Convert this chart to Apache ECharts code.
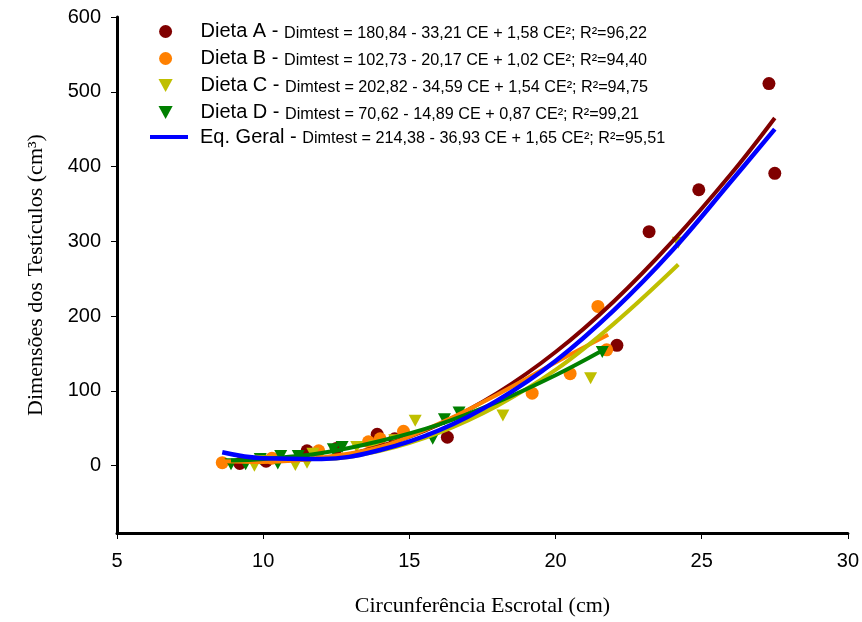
<!DOCTYPE html>
<html>
<head>
<meta charset="utf-8">
<script src="https://cdn.jsdelivr.net/npm/echarts@6/dist/echarts.min.js"></script>
<style>
  html, body { margin: 0; padding: 0; background: #fff; }
  #chart { width: 862px; height: 622px; }
</style>
</head>
<body>
<div id="chart"></div>
<script>
// observed points (CE, Dimtest)
var dietaA = [[9.2, 3], [10.1, 6], [11.5, 20], [12.5, 23], [13.9, 42], [14.5, 36], [16.3, 38],
              [22.1, 161], [23.2, 313], [24.9, 369], [27.3, 511], [27.5, 391]];
var dietaB = [[8.6, 4], [10.3, 10], [11.9, 20], [13.6, 32], [14.0, 36], [14.8, 46],
              [19.2, 97], [20.5, 123], [21.45, 213], [21.75, 155]];
var dietaC = [[9.7, 0], [11.1, 1], [11.5, 4], [11.7, 16], [13.2, 25], [13.8, 26], [14.5, 34],
              [15.2, 60], [18.2, 67], [21.2, 117], [24.2, 298]];
var dietaD = [[8.9, 2], [9.4, 2], [9.9, 9], [10.5, 3], [10.6, 13], [11.2, 13], [12.4, 22],
              [12.7, 25], [15.8, 36], [16.2, 62], [16.7, 71], [21.6, 152]];

// trend curves
var curveA = [[9.2, 9], [10, 7], [12, 10], [14, 26], [16, 55], [18, 97], [20, 152], [22, 220], [24, 300], [26, 390], [27.5, 465]];
var curveB = [[8.6, 6], [10, 5], [12, 11], [14, 25], [16, 56], [18, 95], [20, 138], [21.8, 175]];
var curveC = [[9.7, 12], [12, 9], [14, 20], [16, 44], [18, 80], [20, 128], [22, 190], [24.2, 269]];
var curveD = [[8.9, 7], [10, 9], [12, 17], [14, 33], [16, 55], [18, 85], [20, 121], [21.6, 154]];
var curveGeral = [[8.6, 18], [10, 10], [12, 9], [14, 21], [16, 47], [18, 87], [20, 140], [22, 208], [24, 288], [26, 380], [27.5, 450]];

var dietNames = ['Dieta A', 'Dieta B', 'Dieta C', 'Dieta D'];
var dietEqs = [
    'Dimtest = 180,84 - 33,21 CE + 1,58 CE²; R²=96,22',
    'Dimtest = 102,73 - 20,17 CE + 1,02 CE²; R²=94,40',
    'Dimtest = 202,82 - 34,59 CE + 1,54 CE²; R²=94,75',
    'Dimtest = 70,62 - 14,89 CE + 0,87 CE²; R²=99,21'
];
var geralName = 'Eq. Geral';
var geralEq = 'Dimtest = 214,38 - 36,93 CE + 1,65 CE²; R²=95,51';
var yTicks = [0, 100, 200, 300, 400, 500, 600];

var colA = '#800000', colB = '#ff8000', colC = '#bfbf00', colD = '#008000', colG = '#0000ff';
var downTri = 'path://M0,0 L12,0 L6,11 Z';

var chart = echarts.init(document.getElementById('chart'), null, { renderer: 'canvas' });

function legendRich(pad) {
    return {
        big: { fontFamily: 'Liberation Sans', fontSize: 20, color: '#000', lineHeight: 20,
               verticalAlign: 'bottom', padding: [0, 0, 0, pad] },
        small: { fontFamily: 'Liberation Sans', fontSize: 16.2, color: '#000', lineHeight: 17,
                 verticalAlign: 'bottom' }
    };
}

function scatter(name, data, color, tri) {
    return {
        name: name,
        type: 'scatter',
        data: data,
        symbol: tri ? 'triangle' : 'circle',
        symbolSize: tri ? [13, 12] : 13,
        symbolRotate: tri ? 180 : 0,
        itemStyle: { color: color, opacity: 1 },
        z: 2,
        animation: false
    };
}

function curve(name, data, color, width, z) {
    return {
        name: name,
        type: 'line',
        data: data,
        smooth: 0.4,
        symbol: 'none',
        lineStyle: { color: color, width: width },
        itemStyle: { color: color },
        z: z,
        animation: false
    };
}

chart.setOption({
    backgroundColor: '#fff',
    grid: { left: 117, right: 14, top: 17, bottom: 87 },
    legend: [
        {
            data: [
                { name: dietNames[0], icon: 'circle' },
                { name: dietNames[1], icon: 'circle' },
                { name: dietNames[2], icon: downTri },
                { name: dietNames[3], icon: downTri }
            ],
            orient: 'vertical',
            left: 158.5,
            top: 21.5,
            padding: 0,
            itemWidth: 26,
            itemHeight: 13,
            itemGap: 7,
            symbolKeepAspect: true,
            selectedMode: false,
            formatter: function(name) {
                return '{big|' + name + ' - }{small|' + dietEqs[dietNames.indexOf(name)] + '}';
            },
            textStyle: { rich: legendRich(17) }
        },
        {
            data: [{ name: geralName, icon: 'rect' }],
            orient: 'vertical',
            left: 150,
            top: 127,
            padding: 0,
            itemWidth: 38,
            itemHeight: 4,
            selectedMode: false,
            formatter: function(name) {
                return '{big|' + name + ' - }{small|' + geralEq + '}';
            },
            textStyle: { rich: legendRich(7) }
        }
    ],
    xAxis: {
        type: 'value',
        min: 5,
        max: 30,
        interval: 5,
        name: 'Circunferência Escrotal (cm)',
        nameLocation: 'middle',
        nameGap: 62,
        nameTextStyle: { fontFamily: 'Liberation Serif', fontSize: 22, color: '#000' },
        axisLine: { onZero: false, lineStyle: { color: '#000', width: 3 } },
        axisTick: { show: true, length: 6, lineStyle: { color: '#000', width: 1 } },
        axisLabel: { color: '#000', fontFamily: 'Liberation Sans', fontSize: 20, margin: 18 },
        splitLine: { show: false }
    },
    yAxis: {
        type: 'value',
        min: -90,
        max: 600,
        name: 'Dimensões dos Testículos (cm³)',
        nameLocation: 'middle',
        nameGap: 70,
        nameTextStyle: { fontFamily: 'Liberation Serif', fontSize: 22, color: '#000' },
        axisLine: { onZero: false, lineStyle: { color: '#000', width: 3 } },
        axisTick: { show: true, length: 6, customValues: yTicks, lineStyle: { color: '#000', width: 1 } },
        axisLabel: { color: '#000', fontFamily: 'Liberation Sans', fontSize: 20, margin: 16, customValues: yTicks },
        splitLine: { show: false }
    },
    series: [
        scatter('Dieta A', dietaA, colA, false),
        scatter('Dieta B', dietaB, colB, false),
        scatter('Dieta C', dietaC, colC, true),
        scatter('Dieta D', dietaD, colD, true),
        curve('Tend. A', curveA, colA, 4, 3),
        curve('Tend. B', curveB, colB, 4, 3),
        curve('Tend. C', curveC, colC, 4, 3),
        curve('Tend. D', curveD, colD, 4, 3),
        curve(geralName, curveGeral, colG, 4.5, 4)
    ]
});

window.addEventListener('resize', function() { chart.resize(); });
</script>
</body>
</html>
